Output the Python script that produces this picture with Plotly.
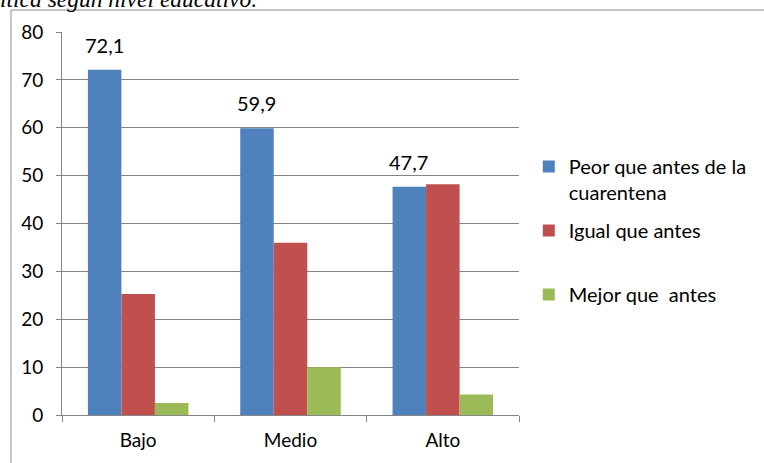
import plotly.graph_objects as go

categories = ["Bajo", "Medio", "Alto"]
peor = [72.1, 59.9, 47.7]
igual = [25.3, 36.0, 48.2]
mejor = [2.5, 10.0, 4.3]
series_names = ["Peor que antes de la<br>cuarentena", "Igual que antes<br> ", "Mejor que  antes<br> "]
colors = ["#4F81BD", "#C0504D", "#9BBB59"]
y_ticks = [0, 10, 20, 30, 40, 50, 60, 70, 80]

FONT = "Lato"

fig = go.Figure()
for i, (name, vals) in enumerate(zip(series_names, [peor, igual, mejor])):
    fig.add_trace(go.Bar(
        x=categories, y=vals, name=name,
        marker=dict(color=colors[i], line=dict(width=0)),
        legendgroup=f"g{i}",
    ))

annotations = []
for c, v in zip(categories, peor):
    annotations.append(dict(
        x=c, y=v, xref="x", yref="y",
        text=f"{v:.1f}".replace(".", ","),
        showarrow=False, xshift=-34, yshift=11, yanchor="bottom",
        font=dict(family=FONT, size=20, color="#000000"),
    ))

annotations.append(dict(
    x=-0.1395, y=1.086, xref="paper", yref="paper",
    text="<i>ítica según nivel educativo.</i>",
    showarrow=False, xanchor="left", yanchor="middle",
    font=dict(family="Liberation Serif", size=23.5, color="#000000"),
))

fig.update_layout(
    width=764, height=463,
    margin=dict(l=62, r=236, t=32, b=48),
    paper_bgcolor="#FFFFFF",
    plot_bgcolor="#FFFFFF",
    barmode="group",
    bargap=0.34,
    bargroupgap=0,
    font=dict(family=FONT, size=18, color="#000000"),
    showlegend=True,
    legend=dict(
        x=1.0214, y=0.70, xanchor="left", yanchor="top",
        valign="top",
        font=dict(family=FONT, size=20, color="#000000"),
        tracegroupgap=9,
        bgcolor="rgba(0,0,0,0)",
    ),
    annotations=annotations,
    shapes=[dict(
        type="rect", xref="paper", yref="paper",
        x0=-0.1116, x1=1.56, y0=-0.15, y1=1.0574,
        line=dict(color="#8C8C8C", width=1), fillcolor="rgba(0,0,0,0)",
        layer="below",
    )],
)

fig.update_xaxes(
    showline=True, linecolor="#868686", linewidth=1,
    ticks="outside", ticklen=6, tickcolor="#868686",
    tickson="boundaries",
    showgrid=False,
    ticklabelstandoff=8,
    tickfont=dict(family=FONT, size=19, color="#000000"),
    fixedrange=True,
)
fig.update_yaxes(
    range=[0, 80], tickvals=y_ticks,
    showline=True, linecolor="#868686", linewidth=1,
    ticks="outside", ticklen=5, tickcolor="#868686",
    showgrid=True, gridcolor="#868686", gridwidth=1,
    zeroline=False,
    ticklabelstandoff=9,
    tickfont=dict(family=FONT, size=19, color="#000000"),
    fixedrange=True,
)

fig.write_html(
    "out.html",
    config={"displayModeBar": False},
    post_script="document.body.style.margin='0';",
)
